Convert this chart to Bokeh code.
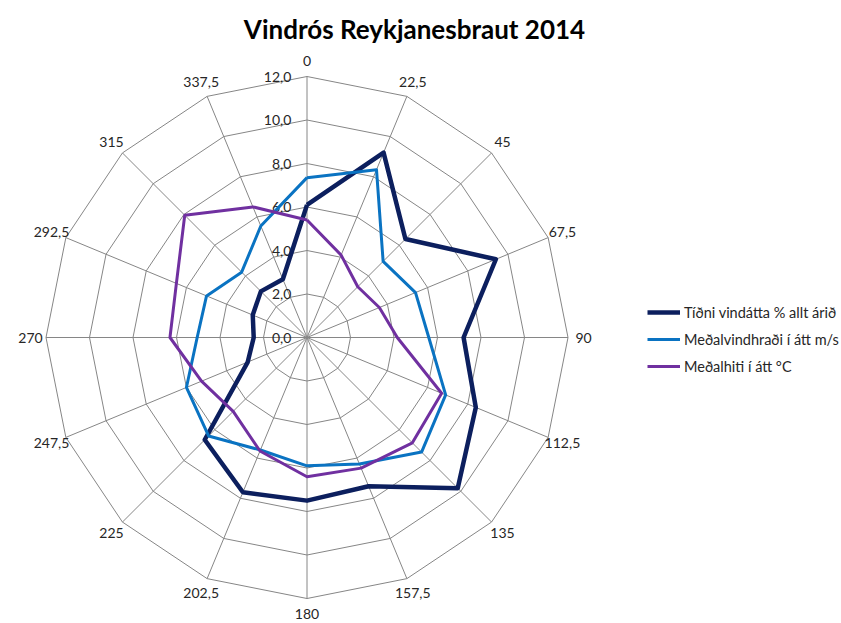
import numpy as np
from bokeh.plotting import figure
from bokeh.models import Legend, LegendItem, Label
from bokeh.core.properties import value
from bokeh.embed import file_html
from bokeh.resources import INLINE

directions = [0, 22.5, 45, 67.5, 90, 112.5, 135, 157.5, 180, 202.5, 225, 247.5, 270, 292.5, 315, 337.5]
direction_labels = ["0", "22,5", "45", "67,5", "90", "112,5", "135", "157,5", "180",
                    "202,5", "225", "247,5", "270", "292,5", "315", "337,5"]
tidni = [6.1, 9.2, 6.4, 9.4, 7.2, 8.4, 9.8, 7.4, 7.5, 7.7, 6.65, 2.95, 2.45, 2.7, 3.0, 2.9]
vindhradi = [7.35, 8.35, 4.95, 5.4, 5.6, 6.9, 7.45, 6.3, 5.9, 5.6, 6.4, 6.0, 5.05, 5.0, 4.25, 5.55]
hiti = [5.4, 4.1, 3.3, 3.6, 4.15, 6.7, 6.85, 6.5, 6.4, 5.65, 4.8, 5.25, 6.3, 6.5, 7.95, 6.5]
radial_ticks = [0, 2, 4, 6, 8, 10, 12]
radial_tick_labels = ["0,0", "2,0", "4,0", "6,0", "8,0", "10,0", "12,0"]
series_names = ["Tíðni vindátta % allt árið", "Meðalvindhraði í átt m/s", "Meðalhiti í átt °C"]
title_text = "Vindrós Reykjanesbraut 2014"

FONT = "Lato"
W, H = 840, 622
cx, cy = 306.5, 337.0   # centre on canvas (px)
ppu = 21.75             # pixels per value unit

p = figure(width=W, height=H, output_backend="svg", toolbar_location=None,
           x_range=(-cx / ppu, (W - cx) / ppu), y_range=(-(H - cy) / ppu, cy / ppu),
           min_border=0, outline_line_color=None)
p.axis.visible = False
p.grid.visible = False
p.background_fill_color = "white"

theta = np.radians(np.array(directions, dtype=float))
sx, sy = np.sin(theta), np.cos(theta)

def closed(vals):
    v = np.array(vals, dtype=float)
    xs = np.append(v * sx, v[0] * sx[0])
    ys = np.append(v * sy, v[0] * sy[0])
    return xs, ys

grid_col = "#868686"
rmax = radial_ticks[-1]
# spokes
p.segment(x0=np.zeros(len(directions)), y0=np.zeros(len(directions)),
          x1=rmax * sx, y1=rmax * sy, line_color=grid_col, line_width=1)
# rings
for t in radial_ticks[1:]:
    gx, gy = closed([t] * len(directions))
    p.line(gx, gy, line_color=grid_col, line_width=1)

# radial labels
p.text(x=[-0.72] * len(radial_ticks), y=radial_ticks, text=radial_tick_labels,
       text_align="right", text_baseline="middle", text_font=value(FONT),
       text_font_size="14px", text_color="#262626")

# direction labels
rl = 276.5 / ppu
p.text(x=rl * sx, y=rl * sy, text=direction_labels, text_align="center",
       text_baseline="middle", text_font=value(FONT), text_font_size="14px",
       text_color="#262626")

colors = ["#0c1f5e", "#0a73c2", "#7030a0"]
widths = [4.5, 3, 3]
renderers = []
for vals, c, w in zip([tidni, vindhradi, hiti], colors, widths):
    xs, ys = closed(vals)
    r = p.line(xs, ys, line_color=c, line_width=w, line_join="round")
    renderers.append(r)

legend = Legend(items=[LegendItem(label=n, renderers=[r]) for n, r in zip(series_names, renderers)],
                location=(647, H - 376), glyph_width=33, glyph_height=20, label_height=20,
                spacing=7, padding=0, margin=0, label_standoff=4,
                label_text_font=FONT, label_text_font_size="14.5px", label_text_color="#262626",
                border_line_alpha=0, background_fill_alpha=0)
p.add_layout(legend, "center")

p.add_layout(Label(x=414, y=H - 28, x_units="screen", y_units="screen", text=title_text,
                   text_align="center", text_baseline="middle", text_font=FONT,
                   text_font_style="bold", text_font_size="26px", text_color="black"))

open("out.html", "w").write(file_html(p, INLINE))
